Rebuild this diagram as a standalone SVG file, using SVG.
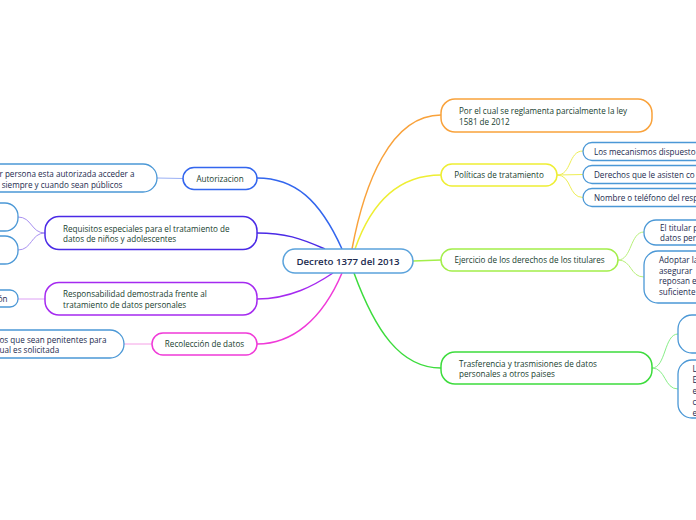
<svg xmlns="http://www.w3.org/2000/svg" width="696" height="520" viewBox="0 0 696 520">
<style>
  text { font-family: "Open Sans", "Noto Sans", "DejaVu Sans", sans-serif; font-size: 8.1px; }
  .main { fill: #17402e; }
  .sub { fill: #1b2a4e; }
  .c { text-anchor: middle; }
  .box { fill: #ffffff; stroke-width: 1.5; }
  .leaf { fill: #ffffff; stroke: #4b98d6; stroke-width: 1.3; }
  .edge { fill: none; stroke-width: 1.5; }
  .thin { fill: none; stroke-width: 1; }
</style>
<rect x="0" y="0" width="696" height="520" fill="#ffffff"/>

<g id="connectors">
  <path class="edge" stroke="#f9a23b" d="M352,249 C364,185 390,115 441,115"/>
  <path class="edge" stroke="#eeee33" d="M355,249 C372,200 400,175 441,175"/>
  <path class="edge" stroke="#a3ee4a" d="M413,261 L441,260"/>
  <path class="edge" stroke="#3ddc3d" d="M354,273 C375,330 400,368 441,368"/>
  <path class="edge" stroke="#3366ee" d="M342,249 C320,200 295,178 257,178"/>
  <path class="edge" stroke="#4a2ae6" d="M325,249 C300,238 285,233 257,233"/>
  <path class="edge" stroke="#a52af0" d="M333,273 C315,285 290,299 257,299"/>
  <path class="edge" stroke="#f03ad8" d="M342,273 C322,320 292,344 257,344"/>

  <path class="thin" stroke="#eeee55" d="M557,175 C572,175 568,151 583,151"/>
  <path class="thin" stroke="#eeee55" d="M557,175 L583,174.5"/>
  <path class="thin" stroke="#eeee55" d="M557,175 C572,175 568,197.5 583,197.5"/>

  <path class="thin" stroke="#b8f07a" d="M618,260 C632,260 630,232 644,232"/>
  <path class="thin" stroke="#b8f07a" d="M618,260 C632,260 630,277 644,277"/>

  <path class="thin" stroke="#88ee88" d="M652,368 C666,368 664,334 678,334"/>
  <path class="thin" stroke="#88ee88" d="M652,368 C666,368 664,389 678,389"/>

  <path class="thin" stroke="#9ab0f5" d="M157,178 L183,178.5"/>
  <path class="thin" stroke="#a890f0" d="M45,233 C31,233 32,217 18,217"/>
  <path class="thin" stroke="#a890f0" d="M45,233 C31,233 32,250 18,250"/>
  <path class="thin" stroke="#dda0f5" d="M18,299 L45,299"/>
  <path class="thin" stroke="#f5a0e6" d="M124,344 L152,344"/>
</g>

<g id="central">
  <rect class="box" x="283" y="249" width="130" height="24" rx="12" stroke="#5ba3dc"/>
  <text class="sub c" x="348" y="264.5" style="font-size:9.7px;font-weight:600">Decreto 1377 del 2013</text>
</g>

<g id="por-el-cual">
  <rect class="box" x="441" y="99" width="211" height="33" rx="14" stroke="#f9a23b"/>
  <text class="main" x="459" y="113.5">Por el cual se reglamenta parcialmente la ley</text>
  <text class="main" x="459" y="124.5">1581 de 2012</text>
</g>

<g id="politicas">
  <rect class="box" x="441" y="164" width="116" height="22" rx="11" stroke="#eeee33"/>
  <text class="main c" x="499" y="178">Políticas de tratamiento</text>
</g>
<g id="politicas-1">
  <rect class="leaf" x="583" y="142.5" width="150" height="18" rx="9"/>
  <text class="sub" x="594" y="154.5">Los mecanismos dispuesto</text>
</g>
<g id="politicas-2">
  <rect class="leaf" x="583" y="165.5" width="150" height="18" rx="9"/>
  <text class="sub" x="594" y="177.5">Derechos que le asisten co</text>
</g>
<g id="politicas-3">
  <rect class="leaf" x="583" y="188.5" width="150" height="18" rx="9"/>
  <text class="sub" x="594" y="200.5">Nombre o teléfono del resp</text>
</g>

<g id="ejercicio">
  <rect class="box" x="441" y="249" width="177" height="22" rx="11" stroke="#a3ee4a"/>
  <text class="main c" x="529.5" y="263">Ejercicio de los derechos de los titulares</text>
</g>
<g id="ejercicio-1">
  <rect class="leaf" x="644" y="220" width="120" height="25" rx="12"/>
  <text class="sub" x="660" y="231">El titular p</text>
  <text class="sub" x="660" y="241">datos pers</text>
</g>
<g id="ejercicio-2">
  <rect class="leaf" x="644" y="251" width="120" height="52" rx="14"/>
  <text class="sub" x="659" y="263">Adoptar la</text>
  <text class="sub" x="659" y="273.5">asegurar</text>
  <text class="sub" x="659" y="284">reposan e</text>
  <text class="sub" x="659" y="294.5">suficiente</text>
</g>

<g id="trasferencia">
  <rect class="box" x="441" y="352" width="211" height="32" rx="14" stroke="#3ddc3d"/>
  <text class="main" x="459" y="366.5">Trasferencia y trasmisiones de datos</text>
  <text class="main" x="459" y="377">personales a otros paises</text>
</g>
<g id="trasferencia-1">
  <rect class="leaf" x="678" y="315" width="60" height="38" rx="14"/>
</g>
<g id="trasferencia-2">
  <rect class="leaf" x="678" y="360" width="60" height="58" rx="14"/>
  <text class="sub" x="692.5" y="372">L</text>
  <text class="sub" x="692.5" y="383">E</text>
  <text class="sub" x="692.5" y="394">e</text>
  <text class="sub" x="692.5" y="404.5">c</text>
  <text class="sub" x="692.5" y="415.5">e</text>
</g>

<g id="autorizacion">
  <rect class="box" x="183" y="167.5" width="74" height="22" rx="11" stroke="#3366ee"/>
  <text class="main c" x="220" y="181.5">Autorizacion</text>
</g>
<g id="autorizacion-1">
  <rect class="leaf" x="-20" y="164" width="177" height="28" rx="14"/>
  <text class="sub" x="-0.5" y="177">r persona esta autorizada acceder a</text>
  <text class="sub" x="1.7" y="187.5">siempre y cuando sean públicos</text>
</g>

<g id="requisitos">
  <rect class="box" x="45" y="216.5" width="212" height="33" rx="14" stroke="#4a2ae6"/>
  <text class="main" x="63" y="231.5">Requisitos especiales para el tratamiento de</text>
  <text class="main" x="63" y="242">datos de niños y adolescentes</text>
</g>
<g id="requisitos-1">
  <rect class="leaf" x="-20" y="203" width="38" height="28" rx="13"/>
</g>
<g id="requisitos-2">
  <rect class="leaf" x="-20" y="236" width="38" height="28" rx="13"/>
</g>

<g id="responsabilidad">
  <rect class="box" x="45" y="282.5" width="212" height="32.5" rx="14" stroke="#a52af0"/>
  <text class="main" x="63" y="297">Responsabilidad demostrada frente al</text>
  <text class="main" x="63" y="307.5">tratamiento de datos personales</text>
</g>
<g id="responsabilidad-1">
  <rect class="leaf" x="-20" y="290" width="38" height="17" rx="8"/>
  <text class="sub" x="7.5" y="302" text-anchor="end">ón</text>
</g>

<g id="recoleccion">
  <rect class="box" x="152" y="333" width="105" height="22" rx="11" stroke="#f03ad8"/>
  <text class="main c" x="204.5" y="347">Recolección de datos</text>
</g>
<g id="recoleccion-1">
  <rect class="leaf" x="-20" y="330" width="144" height="28" rx="14"/>
  <text class="sub" x="-0.5" y="343">os que sean penitentes para</text>
  <text class="sub" x="-0.5" y="353">ual es solicitada</text>
</g>
</svg>
